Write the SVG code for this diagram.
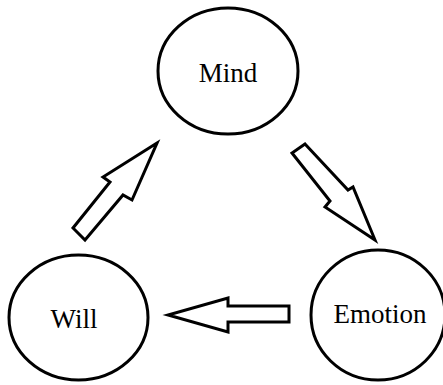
<svg xmlns="http://www.w3.org/2000/svg" width="443" height="385" viewBox="0 0 443 385">
<style>
.node ellipse{fill:#fff;stroke:#000;stroke-width:3}
.node text{font-family:"Liberation Serif","Times New Roman",serif;font-size:27px;fill:#000;text-anchor:middle}
.conn polygon{fill:#fff;stroke:#000;stroke-width:3;stroke-linejoin:miter}
</style>
<rect width="443" height="385" fill="#fff"/>
<g id="mind" class="node"><ellipse cx="228" cy="71" rx="70" ry="63"/><text x="228" y="82">Mind</text></g>
<g id="will" class="node"><ellipse cx="78.5" cy="317.5" rx="69.5" ry="62.5"/><text x="74" y="328">Will</text></g>
<g id="emotion" class="node"><ellipse cx="378" cy="315" rx="67" ry="65"/><text x="380" y="323">Emotion</text></g>
<g id="connectors" class="conn">
<polygon points="157,143 103,177 110,182 73,228 85,240 123,195 132,200"/>
<polygon points="305,144 348,190 353,187 375,240 325,207 330,201 292,153"/>
<polygon points="289,306 228,306 228,298 168,315 228,332 228,322 289,322"/>
</g>
</svg>
